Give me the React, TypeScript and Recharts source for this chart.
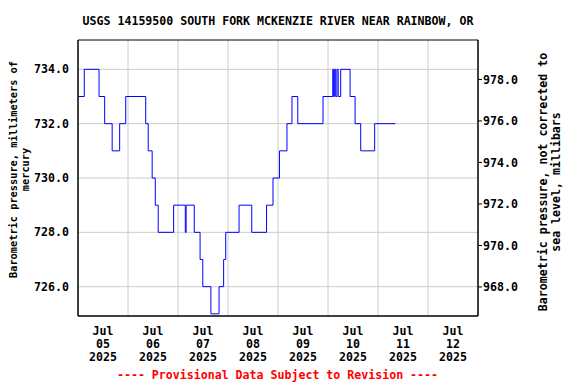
import React from "react";
import {
  LineChart,
  Line,
  XAxis,
  YAxis,
  CartesianGrid,
  ReferenceArea,
  Customized,
} from "recharts";

// Hours since Jul 05 2025 00:00 at which the reading changes
const hours = [
  0, 3.0, 10.1, 12.8, 16.4, 20.0, 22.9, 32.5, 33.7, 35.6, 37.1, 38.5, 45.9,
  51.5, 51.9, 55.8, 58.6, 59.9, 63.8, 67.7, 69.9, 70.9, 77.3, 83.4, 90.5, 93.6,
  96.7, 100.3, 102.7, 105.5, 117.6, 122.3, 122.7, 123.2, 123.7, 124.3, 124.9,
  126.1, 130.6, 133.0, 135.7, 142.4, 152.3,
];
const pressureMm = [
  733, 734, 733, 732, 731, 732, 733, 732, 731, 730, 729, 728, 729, 728, 729,
  728, 727, 726, 725, 726, 727, 728, 729, 728, 729, 730, 731, 732, 733, 732,
  733, 734, 733, 734, 733, 734, 733, 734, 733, 732, 731, 732, 732,
];

const dayLabelHours = [12, 36, 60, 84, 108, 132, 156, 180];
const dayLabels = ["05", "06", "07", "08", "09", "10", "11", "12"];
const dayGridHours = [24, 48, 72, 96, 120, 144, 168];
const mmTicks = [726, 728, 730, 732, 734];
const mbarTicks = [968, 970, 972, 974, 976, 978];
const mmDomain = [724.92, 735.08];
const mbarDomain = [966.6, 979.9];
const xDomain = [0, 192];

const title = "USGS 14159500 SOUTH FORK MCKENZIE RIVER NEAR RAINBOW, OR";
const footer = "---- Provisional Data Subject to Revision ----";
const leftTitle = ["Barometric pressure, millimeters of", "mercury"];
const rightTitle = ["Barometric pressure, not corrected to", "sea level, millibars"];

const data = hours.map((h, i) => ({ h, v: pressureMm[i] }));

const FONT = "'DejaVu Sans Mono', monospace";
const W = 568;
const H = 376;

const DateTick = (props: any) => {
  const { x, y, payload } = props;
  const idx = dayLabelHours.indexOf(payload.value);
  const lbl = idx >= 0 ? dayLabels[idx] : "";
  return (
    <g>
      {["Jul", lbl, "2025"].map((t, i) => (
        <text
          key={i}
          x={x}
          y={y + 10.5 + i * 13}
          textAnchor="middle"
          fontFamily={FONT}
          fontWeight="bold"
          fontSize={11.6}
          fill="#000"
        >
          {t}
        </text>
      ))}
    </g>
  );
};

const Extras = () => (
  <g fontFamily={FONT} fontWeight="bold">
    <text x={270} y={17} textAnchor="middle" fontSize={11.6} fill="#000">
      {title}
    </text>
    <text x={269.5} y={370.5} textAnchor="middle" fontSize={11.6} fill="#ff0000">
      {footer}
    </text>
    <g transform="translate(8.5,161.5) rotate(-90)">
      <text x={0} y={0} textAnchor="middle" fontSize={10.3} fill="#000">
        {leftTitle[0]}
      </text>
      <text x={0} y={12} textAnchor="middle" fontSize={10.3} fill="#000">
        {leftTitle[1]}
      </text>
    </g>
    <g transform="translate(538.5,174) rotate(-90)">
      <text x={0} y={0} textAnchor="middle" fontSize={11.6} fill="#000">
        {rightTitle[0]}
      </text>
      <text x={0} y={13} textAnchor="middle" fontSize={11.6} fill="#000">
        {rightTitle[1]}
      </text>
    </g>
  </g>
);

export default function App() {
  return (
    <div style={{ width: W, height: H }}>
      <LineChart
        width={W}
        height={H}
        data={data}
        margin={{ top: 32, right: 0, bottom: 0, left: 0 }}
      >
        <CartesianGrid
          yAxisId="left"
          stroke="#cccccc"
          strokeWidth={1}
          verticalValues={dayGridHours}
          horizontalValues={mmTicks}
        />
        <XAxis
          dataKey="h"
          type="number"
          domain={xDomain}
          allowDataOverflow
          ticks={dayLabelHours}
          interval={0}
          tickLine={false}
          axisLine={{ stroke: "#000" }}
          height={68}
          tick={<DateTick />}
        />
        <YAxis
          yAxisId="left"
          type="number"
          domain={mmDomain}
          allowDataOverflow
          ticks={mmTicks}
          interval={0}
          width={70}
          tickSize={0}
          tickMargin={9}
          axisLine={{ stroke: "#000" }}
          tickFormatter={(v: number) => v.toFixed(1)}
          tick={{ fontFamily: FONT, fontWeight: "bold", fontSize: 11.6, fill: "#000" }}
        />
        <YAxis
          yAxisId="right"
          orientation="right"
          type="number"
          domain={mbarDomain}
          allowDataOverflow
          ticks={mbarTicks}
          interval={0}
          width={98}
          tickSize={4}
          tickMargin={1}
          axisLine={{ stroke: "#000" }}
          tickLine={{ stroke: "#000" }}
          tickFormatter={(v: number) => v.toFixed(1)}
          tick={{ fontFamily: FONT, fontWeight: "bold", fontSize: 11.6, fill: "#000" }}
        />
        <ReferenceArea
          yAxisId="left"
          x1={xDomain[0]}
          x2={xDomain[1]}
          y1={mmDomain[0]}
          y2={mmDomain[1]}
          fill="none"
          stroke="#000"
          strokeWidth={1}
          ifOverflow="visible"
        />
        <Line
          yAxisId="left"
          dataKey="v"
          type="stepAfter"
          stroke="#0000ff"
          strokeWidth={1}
          dot={false}
          isAnimationActive={false}
        />
        <Customized component={Extras} />
      </LineChart>
    </div>
  );
}
